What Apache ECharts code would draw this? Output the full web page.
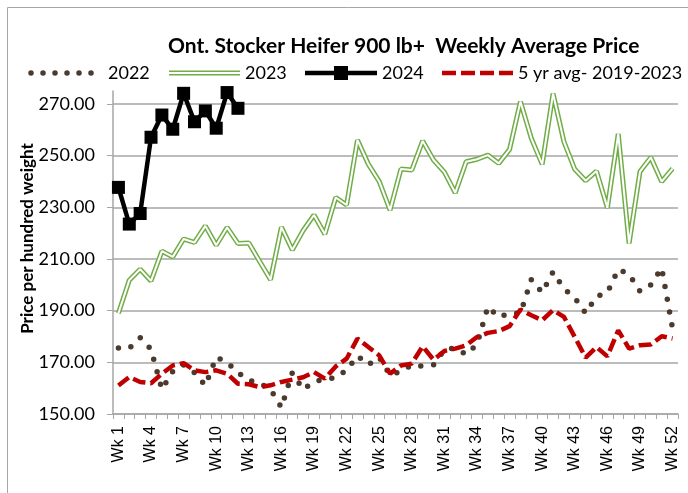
<!DOCTYPE html>
<html>
<head>
<meta charset="utf-8">
<title>Ont. Stocker Heifer 900 lb+ Weekly Average Price</title>
<script src="https://cdn.jsdelivr.net/npm/echarts@6/dist/echarts.min.js"></script>
<style>
  html, body { margin: 0; padding: 0; background: #fff; }
  #chart { width: 688px; height: 493px; }
</style>
</head>
<body>
<div id="chart"></div>
<script>
// week categories
const weeks = [
  'Wk 1', 'Wk 2', 'Wk 3', 'Wk 4', 'Wk 5', 'Wk 6', 'Wk 7', 'Wk 8', 'Wk 9', 'Wk 10',
  'Wk 11', 'Wk 12', 'Wk 13', 'Wk 14', 'Wk 15', 'Wk 16', 'Wk 17', 'Wk 18', 'Wk 19', 'Wk 20',
  'Wk 21', 'Wk 22', 'Wk 23', 'Wk 24', 'Wk 25', 'Wk 26', 'Wk 27', 'Wk 28', 'Wk 29', 'Wk 30',
  'Wk 31', 'Wk 32', 'Wk 33', 'Wk 34', 'Wk 35', 'Wk 36', 'Wk 37', 'Wk 38', 'Wk 39', 'Wk 40',
  'Wk 41', 'Wk 42', 'Wk 43', 'Wk 44', 'Wk 45', 'Wk 46', 'Wk 47', 'Wk 48', 'Wk 49', 'Wk 50',
  'Wk 51', 'Wk 52'
]

// $ per hundred weight
const y2022 = [
  175.5, 175.5, 179.5, 175, 159.5, 166.5, 169, 166, 161, 172,
  170, 166, 163, 162, 159.5, 152.5, 166, 159.5, 162.5, 163.5,
  164, 167, 172.5, 169, 172, 165, 166.5, 169, 168.5, 169,
  175, 175.5, 173, 177, 191.5, 187.5, 189, 189, 202, 197,
  205, 198.5, 195, 189, 195.5, 197, 206, 204, 197.5, 200,
  206.5, 183
]
const y2023 = [
  189, 201.8, 206, 201.5, 213, 210.8, 217.7, 216.4, 222.8, 215.3,
  222.2, 216, 216.2, 209, 202, 222.3, 213.5, 221, 227, 219.6,
  233.8, 230.9, 256, 246.7, 240, 228.9, 244.8, 244.4, 255.7, 248.3,
  243.6, 235.6, 247.6, 248.6, 250.2, 247, 252.4, 270.9, 256.7, 246.6,
  274, 255.4, 244.7, 240.3, 244, 229.8, 258.4, 216, 243.8, 249.3,
  239.9, 245
]
const y2024 = [
  237.7, 223.5, 227.6, 257.1, 265.7, 260.2, 274.1, 263.1, 267.3, 260.6,
  274.4, 268.3
]
const avg5 = [
  161, 164.3, 162.4, 161.9, 165.6, 168.8, 169.7, 166.9, 166.2, 166.9,
  165.6, 161.7, 161.5, 160.4, 161.1, 162.4, 163.3, 164.2, 166.2, 163.7,
  168.4, 171.4, 179.2, 175.9, 172.7, 165.6, 168.8, 169.5, 176.2, 171,
  174.4, 175.3, 176.6, 179.8, 181.4, 182.1, 184, 190.4, 188.2, 186.3,
  190.2, 187.6, 179.8, 171.8, 175.9, 172.3, 182.4, 175.3, 176.6, 176.9,
  180.1, 179.2
]

const brown = '#4b3a2e'
const green = '#70ad47'
const red = '#c00000'
const gray = '#a6a6a6'
const legendY = 73

// legend is drawn by hand so the 2023 double line and the dots look right
function legendText(x, text) {
  return {
    type: 'text',
    x: x,
    y: legendY,
    style: { text: text, font: '18px Lato', fill: '#000', verticalAlign: 'middle' }
  }
}
function legendLine(x1, x2, style) {
  return { type: 'line', shape: { x1: x1, y1: legendY, x2: x2, y2: legendY }, style: style }
}

const chart = echarts.init(document.getElementById('chart'))
const option = {
  animation: false,
  backgroundColor: '#fff',
  title: {
    text: 'Ont. Stocker Heifer 900 lb+  Weekly Average Price',
    left: 163,
    top: 31,
    textStyle: { fontFamily: 'Lato', fontWeight: 'bold', fontSize: 21, color: '#000' }
  },
  grid: {
    left: 113,
    right: 10,
    top: 91,
    bottom: 79
  },
  xAxis: {
    type: 'category',
    data: weeks,
    boundaryGap: true,
    axisLine: { lineStyle: { color: gray, width: 1.5 } },
    axisTick: { show: true, interval: 0, length: 5, lineStyle: { color: gray } },
    axisLabel: {
      interval: 2,
      rotate: 90,
      margin: 12,
      fontFamily: 'Liberation Sans',
      fontSize: 16,
      color: '#000'
    }
  },
  yAxis: {
    type: 'value',
    min: 150,
    max: 275,
    interval: 20,
    name: 'Price per hundred weight',
    nameLocation: 'middle',
    nameGap: 77,
    nameMoveOverlap: false,
    nameTextStyle: {
      fontFamily: 'Lato',
      fontWeight: 'bold',
      fontSize: 17,
      color: '#000',
      padding: [0, 0, 0, 28]
    },
    axisLine: { show: true, lineStyle: { color: gray, width: 1.5 } },
    axisTick: { show: true, length: 6, lineStyle: { color: gray } },
    axisLabel: {
      formatter: (v) => v.toFixed(2),
      margin: 18,
      showMaxLabel: false,
      fontFamily: 'Lato',
      fontSize: 18,
      color: '#000'
    },
    splitLine: { show: true, showMaxLine: false, lineStyle: { color: gray, width: 1.5 } }
  },
  series: [
    {
      name: '2022',
      type: 'line',
      data: y2022,
      symbol: 'none',
      lineStyle: { color: brown, width: 5.5, type: [0, 13], cap: 'round', join: 'round' }
    },
    {
      name: '2023',
      type: 'line',
      data: y2023,
      symbol: 'none',
      lineStyle: { color: green, width: 5 }
    },
    {
      name: '2023 inner',
      type: 'line',
      data: y2023,
      symbol: 'none',
      lineStyle: { color: '#fff', width: 2 }
    },
    {
      name: '2024',
      type: 'line',
      data: y2024,
      symbol: 'rect',
      symbolSize: 13,
      showAllSymbol: true,
      itemStyle: { color: '#000' },
      lineStyle: { color: '#000', width: 4.5 }
    },
    {
      name: '5 yr avg- 2019-2023',
      type: 'line',
      data: avg5,
      symbol: 'none',
      lineStyle: { color: red, width: 4.5, type: [13, 5] }
    }
  ],
  graphic: [
    {
      type: 'rect',
      silent: true,
      shape: { x: 7.5, y: 7.5, width: 700, height: 600 },
      style: { fill: 'none', stroke: gray, lineWidth: 1 }
    },
    legendLine(31, 103, { stroke: brown, lineWidth: 5.5, lineDash: [0, 12], lineCap: 'round' }),
    legendText(108, '2022'),
    legendLine(169, 240, { stroke: green, lineWidth: 5 }),
    legendLine(169, 240, { stroke: '#fff', lineWidth: 2 }),
    legendText(245, '2023'),
    legendLine(305, 377, { stroke: '#000', lineWidth: 4.5 }),
    { type: 'rect', shape: { x: 334, y: legendY - 7, width: 14, height: 14 }, style: { fill: '#000' } },
    legendText(382, '2024'),
    legendLine(442, 514, { stroke: red, lineWidth: 4.5, lineDash: [14, 5] }),
    legendText(518, '5 yr avg- 2019-2023')
  ]
}
chart.setOption(option)
</script>
</body>
</html>
